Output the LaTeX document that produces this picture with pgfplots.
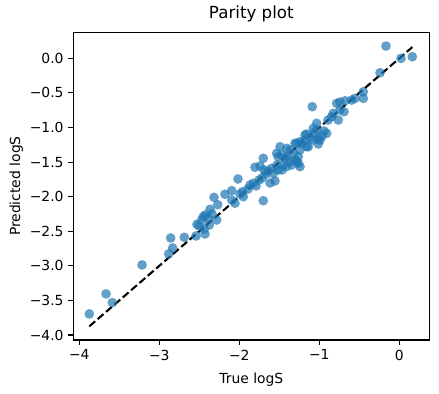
\documentclass[border=0pt]{standalone}
\usepackage{fontspec}
\setmainfont{DejaVu Sans}
\usepackage{pgfplots}
\pgfplotsset{compat=1.18}
\definecolor{c0}{HTML}{1F77B4}
\begin{document}
\begin{tikzpicture}
\begin{axis}[
  scale only axis,
  width=256.3pt, height=221.5pt,
  xmin=-4.075, xmax=0.375,
  ymin=-4.072, ymax=0.376,
  axis line style={line width=0.8pt},
  tick style={line width=0.8pt, black},
  tick align=outside,
  major tick length=3.5pt,
  tick pos=left,
  xtick={-4,-3,-2,-1,0},
  xticklabels={−4,−3,−2,−1,0},
  ytick={-4,-3.5,-3,-2.5,-2,-1.5,-1,-0.5,0},
  yticklabels={−4.0,−3.5,−3.0,−2.5,−2.0,−1.5,−1.0,−0.5,0.0},
  tick label style={font=\fontsize{10}{12}\selectfont},
  xlabel={True logS}, ylabel={Predicted logS},
  label style={font=\fontsize{10}{12}\selectfont},
  title={Parity plot},
  title style={font=\fontsize{12}{14}\selectfont, yshift=-2pt},
  xlabel style={yshift=-2pt},
  ylabel style={yshift=-2pt},
]
\addplot[only marks, mark=*, mark size=3.5pt, color=c0,
  mark options={fill=c0, fill opacity=0.7, draw opacity=0}] table {
x y
-3.875 -3.695
-3.666 -3.406
-3.588 -3.532
-3.216 -2.987
-2.858 -2.597
-2.833 -2.741
-2.883 -2.828
-2.688 -2.587
-2.541 -2.568
-2.529 -2.399
-2.429 -2.539
-2.470 -2.337
-2.425 -2.264
-2.375 -2.409
-2.283 -2.337
-2.366 -2.182
-2.316 -2.009
-2.270 -2.116
-2.179 -1.965
-2.095 -1.913
-2.095 -2.048
-2.054 -2.095
-2.016 -1.744
-1.991 -1.961
-2.450 -2.289
-2.391 -2.308
-2.341 -2.250
-2.504 -2.423
-2.441 -2.467
-1.950 -2.000
-1.958 -1.928
-1.866 -1.831
-1.825 -1.806
-1.891 -1.889
-1.791 -1.845
-1.754 -1.759
-1.804 -1.575
-1.700 -1.445
-1.700 -2.058
-1.691 -1.614
-1.716 -1.730
-1.666 -1.672
-1.641 -1.629
-1.595 -1.590
-1.575 -1.662
-1.513 -1.614
-1.466 -1.614
-1.491 -1.277
-1.470 -1.397
-1.429 -1.445
-1.408 -1.566
-1.366 -1.494
-1.304 -1.470
-1.263 -1.517
-1.241 -1.325
-1.283 -1.228
-1.220 -1.228
-1.179 -1.108
-1.158 -1.277
-1.616 -1.802
-1.554 -1.773
-1.529 -1.542
-1.741 -1.556
-1.088 -0.699
-0.783 -0.650
-0.741 -0.747
-0.679 -0.613
-0.595 -0.603
-0.554 -0.578
-0.825 -0.795
-0.763 -0.892
-1.033 -0.939
-1.075 -1.012
-0.908 -1.084
-1.013 -1.156
-1.158 -1.094
-1.179 -1.181
-1.241 -1.205
-1.304 -1.228
-1.138 -1.277
-1.075 -1.181
-1.366 -1.325
-1.408 -1.422
-1.325 -1.373
-1.263 -1.422
-1.450 -1.542
-1.283 -1.494
-1.241 -1.566
-1.345 -1.542
-1.033 -1.036
-0.991 -1.181
-1.013 -1.238
-1.408 -1.301
-1.533 -1.373
-1.513 -1.426
-1.116 -1.152
-0.966 -1.123
-0.941 -1.051
-1.066 -1.080
-0.166 0.178
0.021 0.000
0.163 0.023
-0.241 -0.208
-0.450 -0.483
-0.450 -0.578
-0.691 -0.772
-0.845 -0.844
-0.891 -0.892
-0.741 -0.632
};
\addplot[black, line width=1.5pt, dash pattern=on 5.55pt off 2.4pt] coordinates {(-3.875,-3.875) (0.163,0.163)};
\end{axis}
\path (current axis.south west) ++(-52.8pt,-38.2pt) rectangle ([shift={(7pt,23.3pt)}]current axis.north east);
\end{tikzpicture}
\end{document}
